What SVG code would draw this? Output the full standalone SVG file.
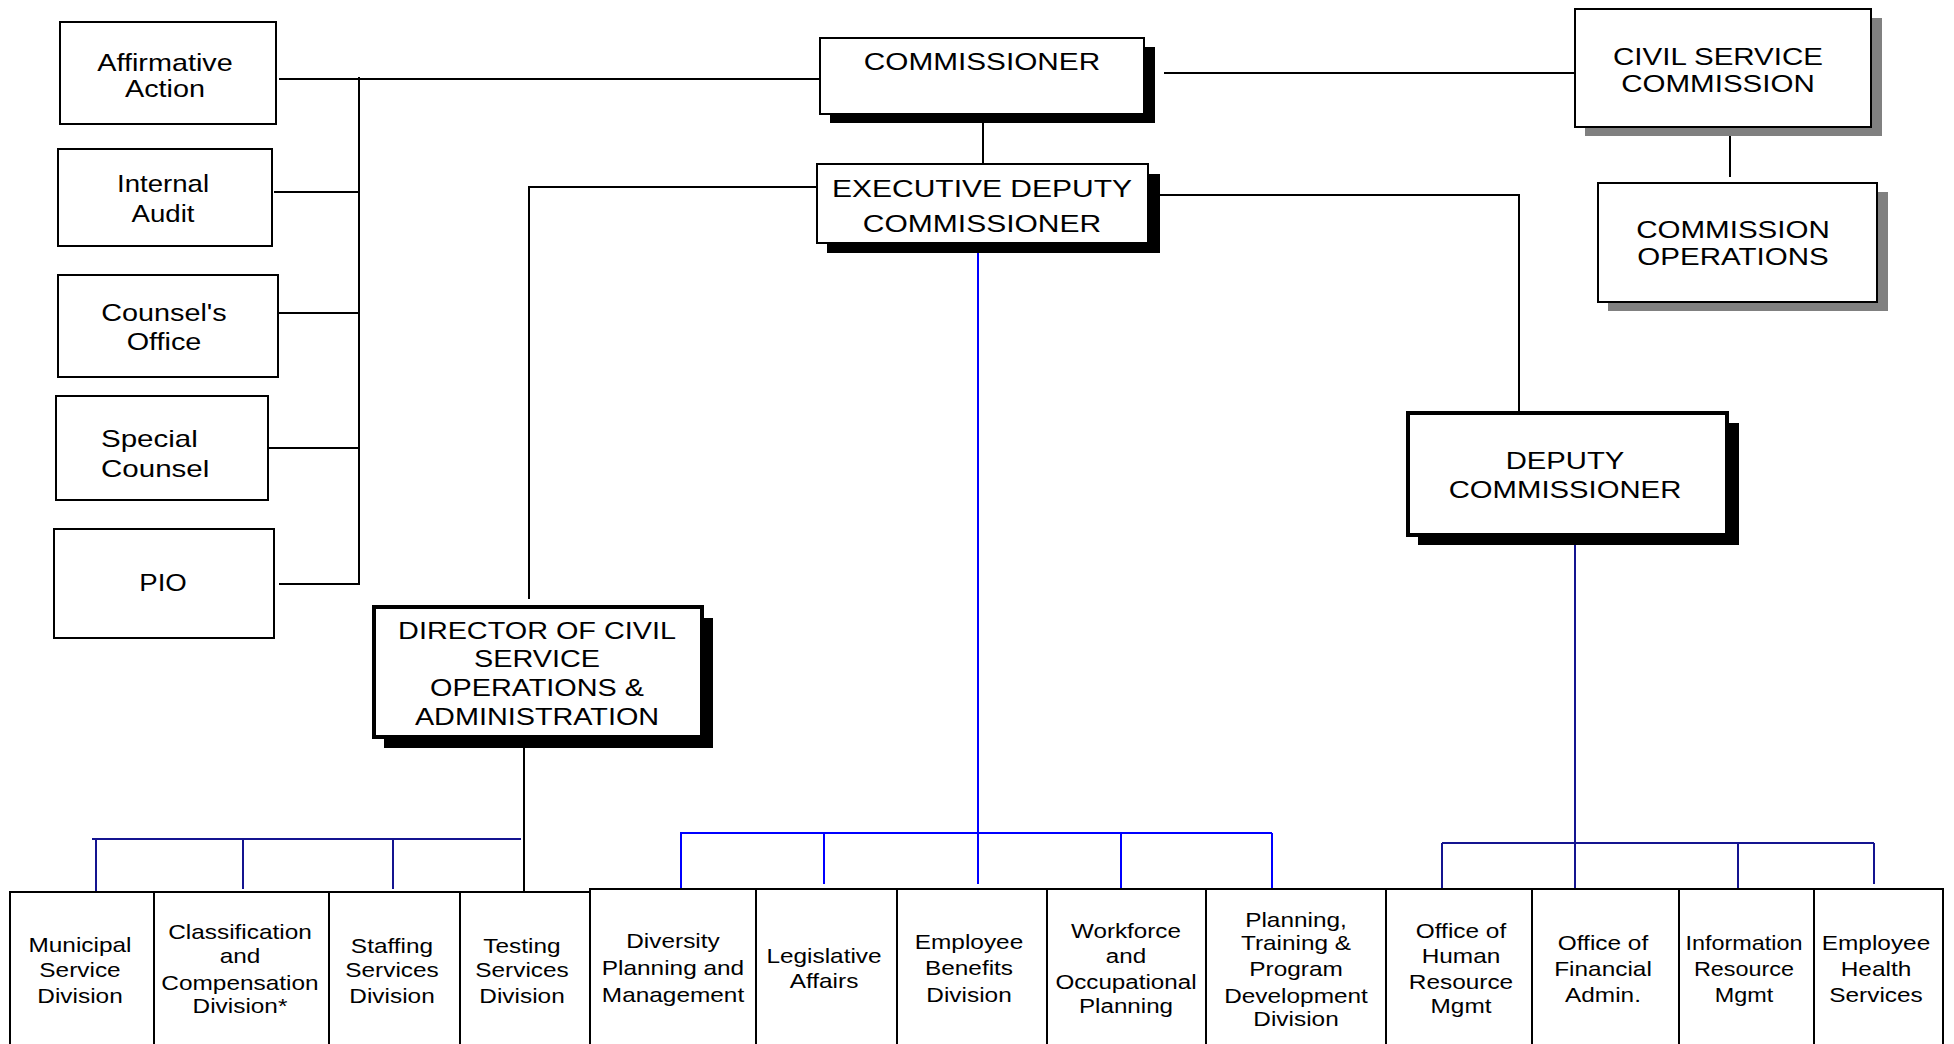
<svg xmlns="http://www.w3.org/2000/svg" width="1954" height="1044" viewBox="0 0 1954 1044">
<style>
.bx{fill:#fff;stroke:#000;stroke-width:2}
.bxt{fill:#fff;stroke:#000;stroke-width:4}
.sh{fill:#000}
.shg{fill:#808080}
.t{font-family:"Liberation Sans",Arial,sans-serif;fill:#000;text-anchor:middle}
.f24{font-size:24px}
.f20{font-size:20px}
.k{fill:none;stroke:#000;stroke-width:2}
.b{fill:none;stroke:#0000ff;stroke-width:2}
.n{fill:none;stroke:#141490;stroke-width:2}
</style>
<rect width="1954" height="1044" fill="#fff"/>
<g id="connectors">
<path class="k" d="M279 79H820M359 77V585M274 192H359M278 313H359M268 448H359M279 584H359"/>
<path class="k" d="M1164 73H1578M983 114V164M529 187H817M529 186V599M1160 195H1519V413M1730 131V177M524 748V893"/>
<path class="b" d="M978 243V884M680 833H1272M681 833V889M824 833V884M1121 833V889M1272 833V889"/>
<path class="n" d="M92 839H521M96 839V893M243 839V889M393 839V889"/>
<path class="n" d="M1575 545V888M1442 843H1874M1442 843V893M1738 843V888M1874 843V884"/>
</g>
<g id="affirmative-action"><rect class="bx" x="60" y="22" width="216" height="102"/>
<text class="t f24" transform="translate(165,0) scale(1.2,1)"><tspan x="0" y="71">Affirmative</tspan><tspan x="0" y="97">Action</tspan></text></g>
<g id="internal-audit"><rect class="bx" x="58" y="149" width="214" height="97"/>
<text class="t f24" transform="translate(163,0) scale(1.15,1)"><tspan x="0" y="192">Internal</tspan><tspan x="0" y="222">Audit</tspan></text></g>
<g id="counsels-office"><rect class="bx" x="58" y="275" width="220" height="102"/>
<text class="t f24" transform="translate(164,0) scale(1.2,1)"><tspan x="0" y="321">Counsel's</tspan><tspan x="0" y="350">Office</tspan></text></g>
<g id="special-counsel"><rect class="bx" x="56" y="396" width="212" height="104"/>
<text class="t f24" style="text-anchor:start" transform="translate(101,0) scale(1.23,1)"><tspan x="0" y="447">Special</tspan><tspan x="0" y="477">Counsel</tspan></text></g>
<g id="pio"><rect class="bx" x="54" y="529" width="220" height="109"/>
<text class="t f24" transform="translate(163,591) scale(1.15,1)">PIO</text></g>
<g id="commissioner"><rect class="sh" x="830" y="47" width="325" height="76"/><rect class="bx" x="820" y="38" width="324" height="76"/>
<text class="t f24" transform="translate(982,70) scale(1.24,1)">COMMISSIONER</text></g>
<g id="executive-deputy-commissioner"><rect class="sh" x="827" y="174" width="333" height="79"/><rect class="bx" x="817" y="164" width="331" height="79"/>
<text class="t f24" transform="translate(982,0) scale(1.25,1)"><tspan x="0" y="197">EXECUTIVE DEPUTY</tspan><tspan x="0" y="232">COMMISSIONER</tspan></text></g>
<g id="civil-service-commission"><rect class="shg" x="1585" y="18" width="297" height="118"/><rect class="bx" x="1575" y="9" width="296" height="118"/>
<text class="t f24" transform="translate(1718,0) scale(1.23,1)"><tspan x="0" y="65">CIVIL SERVICE</tspan><tspan x="0" y="92">COMMISSION</tspan></text></g>
<g id="commission-operations"><rect class="shg" x="1608" y="192" width="280" height="119"/><rect class="bx" x="1598" y="183" width="279" height="119"/>
<text class="t f24" transform="translate(1733,0) scale(1.23,1)"><tspan x="0" y="238">COMMISSION</tspan><tspan x="0" y="265">OPERATIONS</tspan></text></g>
<g id="deputy-commissioner"><rect class="sh" x="1418" y="423" width="321" height="122"/><rect class="bxt" x="1408" y="413" width="319" height="122"/>
<text class="t f24" transform="translate(1565,0) scale(1.22,1)"><tspan x="0" y="469">DEPUTY</tspan><tspan x="0" y="498">COMMISSIONER</tspan></text></g>
<g id="director-civil-service"><rect class="sh" x="384" y="618" width="329" height="130"/><rect class="bxt" x="374" y="607" width="328" height="130"/>
<text class="t f24" transform="translate(537,0) scale(1.2,1)"><tspan x="0" y="639">DIRECTOR OF CIVIL</tspan><tspan x="0" y="667">SERVICE</tspan><tspan x="0" y="696">OPERATIONS &amp;</tspan><tspan x="0" y="725">ADMINISTRATION</tspan></text></g>
<g id="municipal-service"><rect class="bx" x="10" y="892" width="144" height="160"/>
<text class="t f20" transform="translate(80,0) scale(1.22,1)"><tspan x="0" y="952">Municipal</tspan><tspan x="0" y="977">Service</tspan><tspan x="0" y="1003">Division</tspan></text></g>
<g id="classification-compensation"><rect class="bx" x="154" y="892" width="175" height="160"/>
<text class="t f20" transform="translate(240,0) scale(1.22,1)"><tspan x="0" y="939">Classification</tspan><tspan x="0" y="963">and</tspan><tspan x="0" y="990">Compensation</tspan><tspan x="0" y="1013">Division*</tspan></text></g>
<g id="staffing-services"><rect class="bx" x="329" y="892" width="131" height="160"/>
<text class="t f20" transform="translate(392,0) scale(1.22,1)"><tspan x="0" y="953">Staffing</tspan><tspan x="0" y="977">Services</tspan><tspan x="0" y="1003">Division</tspan></text></g>
<g id="testing-services"><rect class="bx" x="460" y="892" width="130" height="160"/>
<text class="t f20" transform="translate(522,0) scale(1.22,1)"><tspan x="0" y="953">Testing</tspan><tspan x="0" y="977">Services</tspan><tspan x="0" y="1003">Division</tspan></text></g>
<g id="diversity-planning"><rect class="bx" x="590" y="889" width="166" height="163"/>
<text class="t f20" transform="translate(673,0) scale(1.22,1)"><tspan x="0" y="948">Diversity</tspan><tspan x="0" y="975">Planning and</tspan><tspan x="0" y="1002">Management</tspan></text></g>
<g id="legislative-affairs"><rect class="bx" x="756" y="889" width="141" height="163"/>
<text class="t f20" transform="translate(824,0) scale(1.22,1)"><tspan x="0" y="963">Legislative</tspan><tspan x="0" y="988">Affairs</tspan></text></g>
<g id="employee-benefits"><rect class="bx" x="897" y="889" width="150" height="163"/>
<text class="t f20" transform="translate(969,0) scale(1.22,1)"><tspan x="0" y="949">Employee</tspan><tspan x="0" y="975">Benefits</tspan><tspan x="0" y="1002">Division</tspan></text></g>
<g id="workforce-planning"><rect class="bx" x="1047" y="889" width="159" height="163"/>
<text class="t f20" transform="translate(1126,0) scale(1.21,1)"><tspan x="0" y="938">Workforce</tspan><tspan x="0" y="963">and</tspan><tspan x="0" y="989">Occupational</tspan><tspan x="0" y="1013">Planning</tspan></text></g>
<g id="planning-training"><rect class="bx" x="1206" y="889" width="180" height="163"/>
<text class="t f20" transform="translate(1296,0) scale(1.22,1)"><tspan x="0" y="927">Planning,</tspan><tspan x="0" y="950">Training &amp;</tspan><tspan x="0" y="976">Program</tspan><tspan x="0" y="1003">Development</tspan><tspan x="0" y="1026">Division</tspan></text></g>
<g id="office-human-resource"><rect class="bx" x="1386" y="889" width="146" height="163"/>
<text class="t f20" transform="translate(1461,0) scale(1.22,1)"><tspan x="0" y="938">Office of</tspan><tspan x="0" y="963">Human</tspan><tspan x="0" y="989">Resource</tspan><tspan x="0" y="1013">Mgmt</tspan></text></g>
<g id="office-financial-admin"><rect class="bx" x="1532" y="889" width="147" height="163"/>
<text class="t f20" transform="translate(1603,0) scale(1.22,1)"><tspan x="0" y="950">Office of</tspan><tspan x="0" y="976">Financial</tspan><tspan x="0" y="1002">Admin.</tspan></text></g>
<g id="information-resource"><rect class="bx" x="1679" y="889" width="135" height="163"/>
<text class="t f20" transform="translate(1744,0) scale(1.17,1)"><tspan x="0" y="950">Information</tspan><tspan x="0" y="976">Resource</tspan><tspan x="0" y="1002">Mgmt</tspan></text></g>
<g id="employee-health"><rect class="bx" x="1814" y="889" width="129" height="163"/>
<text class="t f20" transform="translate(1876,0) scale(1.22,1)"><tspan x="0" y="950">Employee</tspan><tspan x="0" y="976">Health</tspan><tspan x="0" y="1002">Services</tspan></text></g>
</svg>
